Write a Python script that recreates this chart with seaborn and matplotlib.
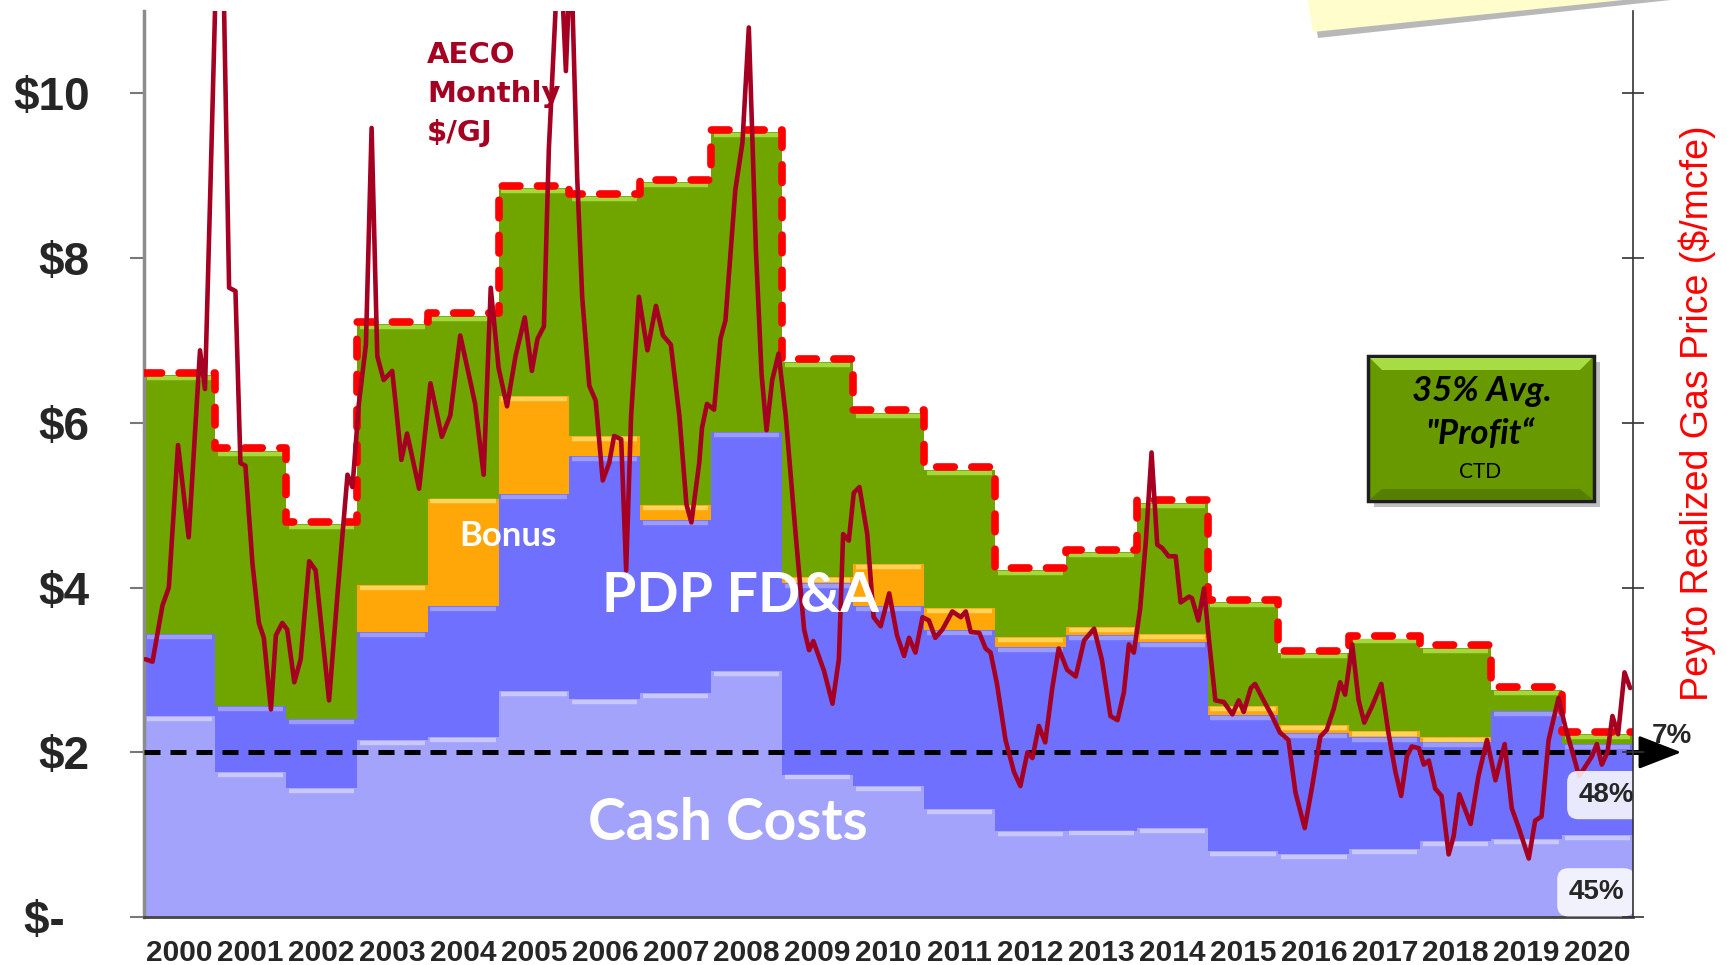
import numpy as np
import seaborn as sns
import matplotlib.pyplot as plt
from matplotlib.patches import Polygon, Rectangle

# yearly stacked costs ($/mcfe)
years = list(range(2000, 2021))
cash_costs = [2.44, 1.76, 1.57, 2.15, 2.18, 2.74, 2.65, 2.72, 2.99, 1.73, 1.59,
              1.31, 1.04, 1.05, 1.08, 0.80, 0.76, 0.82, 0.92, 0.95, 1.00]
pdp_fda = [0.99, 0.80, 0.83, 1.31, 1.60, 2.40, 2.95, 2.10, 2.90, 2.32, 2.18,
           2.17, 2.24, 2.37, 2.26, 1.65, 1.47, 1.36, 1.20, 1.55, 1.10]
bonus = [0.00, 0.00, 0.00, 0.57, 1.30, 1.18, 0.24, 0.18, 0.00, 0.08, 0.52,
         0.27, 0.12, 0.10, 0.10, 0.11, 0.10, 0.08, 0.06, 0.00, 0.00]
realized = [6.58, 5.66, 4.77, 7.20, 7.30, 8.85, 8.75, 8.92, 9.53, 6.74, 6.12,
            5.43, 4.21, 4.43, 5.03, 3.82, 3.20, 3.38, 3.27, 2.76, 2.22]

# AECO monthly price ($/GJ)
aeco_date = [2000.02, 2000.12, 2000.26, 2000.35, 2000.48, 2000.63, 2000.79, 2000.86, 2000.94, 2001.05,
             2001.13, 2001.20, 2001.29, 2001.36, 2001.43, 2001.53, 2001.62, 2001.69, 2001.79, 2001.86,
             2001.95, 2002.02, 2002.12, 2002.21, 2002.33, 2002.42, 2002.61, 2002.73, 2002.87, 2002.94,
             2003.03, 2003.13, 2003.21, 2003.29, 2003.38, 2003.50, 2003.55, 2003.63, 2003.71, 2003.88,
             2004.04, 2004.20, 2004.32, 2004.46, 2004.58, 2004.67, 2004.79, 2004.89, 2005.00, 2005.12,
             2005.24, 2005.37, 2005.47, 2005.55, 2005.64, 2005.71, 2005.86, 2005.95, 2006.02, 2006.11,
             2006.18, 2006.28, 2006.37, 2006.47, 2006.56, 2006.63, 2006.73, 2006.80, 2006.87, 2006.98,
             2007.10, 2007.22, 2007.32, 2007.43, 2007.55, 2007.65, 2007.72, 2007.83, 2007.87, 2007.94,
             2008.04, 2008.13, 2008.20, 2008.34, 2008.44, 2008.53, 2008.63, 2008.71, 2008.78, 2008.86,
             2008.95, 2009.05, 2009.19, 2009.31, 2009.38, 2009.44, 2009.59, 2009.71, 2009.80, 2009.86,
             2009.94, 2010.01, 2010.09, 2010.20, 2010.29, 2010.39, 2010.51, 2010.62, 2010.72, 2010.79,
             2010.88, 2010.98, 2011.07, 2011.16, 2011.26, 2011.40, 2011.52, 2011.59, 2011.66, 2011.78,
             2011.87, 2011.94, 2012.03, 2012.15, 2012.27, 2012.36, 2012.46, 2012.53, 2012.62, 2012.71,
             2012.81, 2012.90, 2013.02, 2013.14, 2013.26, 2013.40, 2013.51, 2013.63, 2013.73, 2013.82,
             2013.89, 2013.96, 2014.05, 2014.13, 2014.21, 2014.29, 2014.36, 2014.45, 2014.55, 2014.62,
             2014.74, 2014.78, 2014.87, 2014.95, 2015.02, 2015.11, 2015.23, 2015.35, 2015.44, 2015.51,
             2015.61, 2015.67, 2015.79, 2015.91, 2016.02, 2016.14, 2016.24, 2016.37, 2016.47, 2016.59,
             2016.68, 2016.78, 2016.87, 2016.94, 2017.04, 2017.13, 2017.21, 2017.32, 2017.45, 2017.55,
             2017.65, 2017.73, 2017.81, 2017.88, 2017.98, 2018.05, 2018.12, 2018.21, 2018.30, 2018.40,
             2018.47, 2018.55, 2018.71, 2018.82, 2018.94, 2019.06, 2019.19, 2019.29, 2019.39, 2019.53,
             2019.62, 2019.71, 2019.81, 2019.95, 2020.05, 2020.13, 2020.24, 2020.42, 2020.49, 2020.56,
             2020.64, 2020.71, 2020.79, 2020.88, 2020.96]
aeco_price = [3.13, 3.10, 3.78, 4.00, 5.73, 4.61, 6.88, 6.41, 8.97, 12.6,
              11.0, 7.64, 7.60, 5.51, 5.48, 4.29, 3.57, 3.39, 2.52, 3.42,
              3.57, 3.49, 2.85, 3.13, 4.32, 4.21, 2.63, 3.93, 5.37, 5.22,
              6.23, 6.95, 9.58, 6.81, 6.52, 6.63, 6.23, 5.55, 5.87, 5.20,
              6.48, 5.83, 6.09, 7.06, 6.59, 6.23, 5.37, 7.64, 6.67, 6.20,
              6.81, 7.28, 6.63, 7.02, 7.17, 9.33, 12.0, 10.27, 11.8, 8.97,
              7.53, 6.45, 6.27, 5.30, 5.51, 5.84, 5.80, 4.21, 6.09, 7.53,
              6.88, 7.42, 7.06, 6.95, 6.09, 5.01, 4.79, 5.51, 5.94, 6.23,
              6.16, 7.02, 7.24, 8.83, 9.40, 10.8, 8.10, 6.59, 5.91, 6.52,
              6.84, 6.09, 4.65, 3.49, 3.24, 3.35, 2.99, 2.59, 3.13, 4.65,
              4.57, 5.15, 5.22, 4.65, 3.64, 3.53, 3.93, 3.42, 3.17, 3.39,
              3.21, 3.64, 3.60, 3.39, 3.49, 3.71, 3.64, 3.71, 3.46, 3.45,
              3.26, 3.21, 2.83, 2.15, 1.76, 1.59, 2.00, 1.93, 2.32, 2.12,
              2.78, 3.26, 3.00, 2.92, 3.36, 3.50, 3.12, 2.44, 2.39, 2.73,
              3.31, 3.21, 3.75, 4.57, 5.64, 4.52, 4.48, 4.38, 4.38, 3.82,
              3.89, 3.87, 3.60, 3.99, 3.36, 2.63, 2.61, 2.46, 2.63, 2.49,
              2.78, 2.83, 2.63, 2.44, 2.24, 2.15, 1.51, 1.08, 1.56, 2.19,
              2.27, 2.53, 2.85, 2.70, 3.31, 2.63, 2.36, 2.56, 2.83, 2.24,
              1.76, 1.47, 1.95, 2.07, 2.05, 1.85, 1.90, 1.56, 1.47, 0.76,
              0.98, 1.49, 1.13, 1.71, 2.15, 1.66, 2.10, 1.32, 1.08, 0.71,
              1.17, 1.22, 2.15, 2.66, 2.29, 2.05, 1.71, 1.95, 2.10, 1.85,
              2.00, 2.44, 2.22, 2.97, 2.78]

y_ticks = [0, 2, 4, 6, 8, 10]
y_labels = ['$-  ', '$2', '$4', '$6', '$8', '$10']

sns.set_style('white')
plt.rcParams['font.family'] = ['Liberation Sans', 'DejaVu Sans']

W, H = 1727, 965
fig = plt.figure(figsize=(W / 100, H / 100), dpi=100)
ax = fig.add_axes([144 / W, 1 - 917 / H, (1633 - 144) / W, (917 - 11) / H])


def fpx(x, y):
    # pixel (from top-left) -> figure fraction
    return (x / W, 1 - y / H)


x_edges = np.arange(years[0], years[-1] + 2)


def ext(a):
    a = np.asarray(a, dtype=float)
    return np.append(a, a[-1])


lvl1 = np.array(cash_costs)
lvl2 = lvl1 + np.array(pdp_fda)
lvl3 = lvl2 + np.array(bonus)
top = np.array(realized)

layers = [(np.zeros_like(lvl1), lvl1, '#A3A3FC', '#C8C8FF'),
          (lvl1, lvl2, '#7070FE', '#9C9CFF'),
          (lvl2, lvl3, '#FFA608', '#FFD35A'),
          (lvl3, top, '#70A500', '#A4D83C')]
for lo, hi, c, hl in layers:
    ax.fill_between(x_edges, ext(lo), ext(hi), step='post', color=c, lw=0, zorder=1)
    thick = hi - lo
    m = thick > 0.06
    ax.hlines((hi - 0.035)[m], (x_edges[:-1] + 0.04)[m], (x_edges[1:] - 0.04)[m],
              color=hl, lw=3.2, zorder=2)

# realized price outline
ax.step(x_edges, ext(top) + 0.03, where='post', color='#FF0000', lw=5.5,
        dashes=(2.3, 2.3), dash_capstyle='round', zorder=3)

# $2 reference line with arrow
ax.plot([2000, 2021.35], [2, 2], color='black', lw=3.6, dashes=(3.2, 2.0),
        clip_on=False, zorder=6)
ax.annotate('', xy=(2021.72, 2), xytext=(2021.3, 2), annotation_clip=False,
            arrowprops=dict(arrowstyle='-|>,head_length=0.9,head_width=0.35',
                            mutation_scale=30, color='black', lw=2), zorder=6)

# AECO monthly line
sns.lineplot(x=aeco_date, y=aeco_price, ax=ax, color='#A50021', lw=3.3,
             sort=False, estimator=None, zorder=7)
ax.lines[-1].set_solid_joinstyle('round')

ax.set_xlim(2000, 2021)
ax.set_ylim(0, 11)
ax.set_xlabel('')
ax.set_ylabel('')

ax.set_xticks(x_edges)
ax.set_xticklabels([])
ax.set_xticks([y + 0.5 for y in years], labels=[str(y) for y in years], minor=True,
              fontsize=21.5, fontweight='bold')
ax.tick_params(axis='x', which='major', direction='out', length=7, width=1.5, color='#555555')
ax.tick_params(axis='x', which='minor', length=0, pad=16)
ax.set_yticks(y_ticks, labels=y_labels, fontsize=33, fontweight='bold')
ax.tick_params(axis='y', direction='out', length=10, width=1.5, color='#777777', pad=29)

for s in ['top', 'right']:
    ax.spines[s].set_visible(False)
ax.spines['left'].set_color('#8C8C8C')
ax.spines['left'].set_linewidth(2.5)
ax.spines['bottom'].set_color('#444444')
ax.spines['bottom'].set_linewidth(2)

ax2 = ax.twinx()
ax2.set_ylim(0, 11)
ax2.set_yticks(y_ticks)
ax2.set_yticklabels([])
ax2.tick_params(axis='y', direction='inout', length=16, width=1.2, color='#333333')
for s in ['top', 'left', 'bottom']:
    ax2.spines[s].set_visible(False)
ax2.spines['right'].set_color('#333333')
ax2.spines['right'].set_linewidth(1.2)

fig.text(*fpx(1697, 413), 'Peyto Realized Gas Price ($/mcfe)', rotation=90,
         ha='center', va='center', color='#FF0000', fontsize=27)

# labels inside the chart
ax.text(2003.99, 10.64, 'AECO\nMonthly\n$/GJ', ha='left', va='top', color='#A50021',
        fontsize=21, fontweight='bold', family=['DejaVu Sans'], linespacing=1.5, zorder=8)
ax.text(2005.13, 4.62, 'Bonus', ha='center', va='center', color='white',
        fontsize=25, fontweight='bold', family=['Lato', 'DejaVu Sans'], zorder=8)
ax.text(2008.41, 3.9, 'PDP FD&A', ha='center', va='center', color='white',
        fontsize=40, fontweight='bold', family=['Lato', 'DejaVu Sans'], zorder=8)
ax.text(2008.23, 1.13, 'Cash Costs', ha='center', va='center', color='white',
        fontsize=41, fontweight='bold', family=['Lato', 'DejaVu Sans'], zorder=8)

ax.text(2021.55, 2.2, '7%', ha='center', va='center', fontsize=20, fontweight='bold', zorder=8)
ax.text(2020.62, 1.48, '48%', ha='center', va='center', fontsize=20, fontweight='bold', zorder=8,
        bbox=dict(boxstyle='round,pad=0.4', fc='white', ec='none', alpha=0.85))
ax.text(2020.48, 0.30, '45%', ha='center', va='center', fontsize=20, fontweight='bold', zorder=8,
        bbox=dict(boxstyle='round,pad=0.4', fc='white', ec='none', alpha=0.85))

# "profit" callout box
fig.add_artist(Rectangle(fpx(1374, 507), 226 / W, 145 / H, transform=fig.transFigure,
                         facecolor='#000000', alpha=0.25, lw=0))
fig.add_artist(Rectangle(fpx(1368, 501), 226 / W, 145 / H, transform=fig.transFigure,
                         facecolor='#689A00', edgecolor='#1E1E1E', lw=2.5))
fig.add_artist(Polygon([fpx(1370, 358), fpx(1592, 358), fpx(1580, 370), fpx(1382, 370)],
                       closed=True, transform=fig.transFigure, facecolor='#A8DC44', lw=0))
fig.add_artist(Polygon([fpx(1370, 499), fpx(1592, 499), fpx(1580, 489), fpx(1382, 489)],
                       closed=True, transform=fig.transFigure, facecolor='#557F00', lw=0))
fig.text(*fpx(1482, 391), '35% Avg.', ha='center', va='center', fontsize=25,
         fontweight='bold', style='italic', color='black', family=['Lato', 'DejaVu Sans'])
fig.text(*fpx(1480, 434), '"Profit\u201c', ha='center', va='center', fontsize=25,
         fontweight='bold', style='italic', color='black', family=['Lato', 'DejaVu Sans'])
fig.text(*fpx(1480, 472), 'CTD', ha='center', va='center', fontsize=15,
         color='black', family=['Lato', 'DejaVu Sans'])

# sticky note peeking in at the top
fig.add_artist(Polygon([fpx(1310, -10), fpx(1318, 38), fpx(1745, -8)], closed=True,
                       transform=fig.transFigure, facecolor='#8A8A8A', alpha=0.6, lw=0))
fig.add_artist(Polygon([fpx(1306, -10), fpx(1313, 32), fpx(1740, -12)], closed=True,
                       transform=fig.transFigure, facecolor='#FFFDCC', lw=0))

fig.savefig('out.png', dpi=100)
